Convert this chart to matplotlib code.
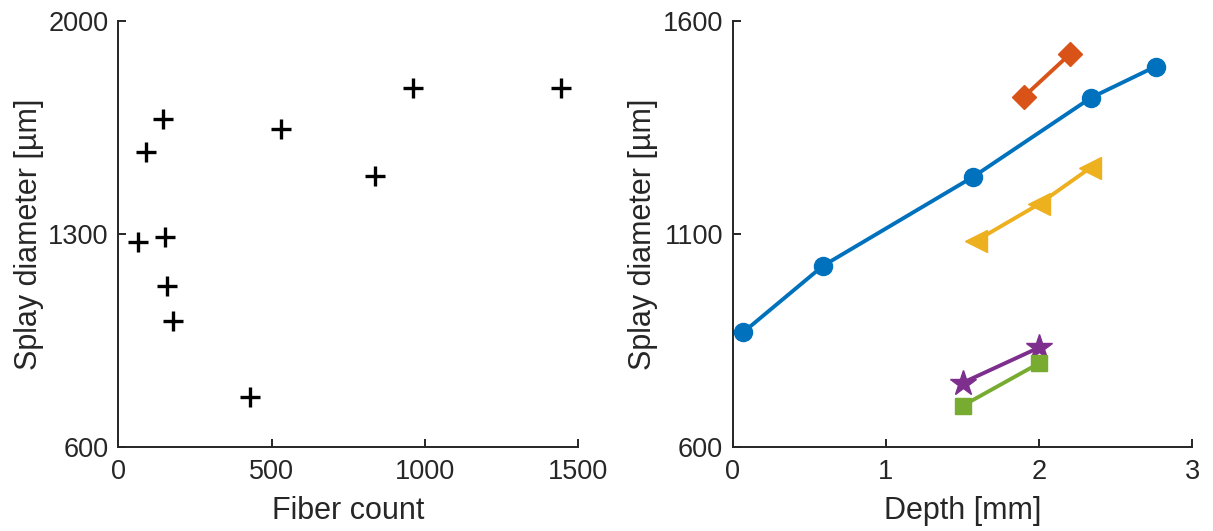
import matplotlib
matplotlib.use("Agg")
import matplotlib.pyplot as plt

plt.rcParams["font.family"] = ["Liberation Sans", "DejaVu Sans"]

# left panel: fiber count vs splay diameter
fiber_count = [1442, 960, 838, 530, 146, 90, 64, 152, 159, 178, 430]
fiber_splay = [1781, 1781, 1490, 1644, 1678, 1568, 1274, 1289, 1130, 1014, 762]

# right panel: depth vs splay diameter, one list per series
blue_depth = [0.07, 0.59, 1.57, 2.34, 2.76]
blue_splay = [869, 1025, 1234, 1420, 1493]
orange_depth = [1.90, 2.20]
orange_splay = [1422, 1522]
yellow_depth = [1.59, 2.00, 2.33]
yellow_splay = [1084, 1170, 1254]
purple_depth = [1.50, 2.00]
purple_splay = [750, 833]
green_depth = [1.50, 2.00]
green_splay = [696, 796]

tick_fs = 19.5
label_fs = 22
ax_color = "#262626"

fig = plt.figure(figsize=(12.13, 5.31), dpi=100)
ax1 = fig.add_axes([0.0975, 0.1588, 0.3793, 0.8017])
ax2 = fig.add_axes([0.604, 0.1588, 0.379, 0.8017])

ax1.plot(fiber_count, fiber_splay, linestyle="none", marker="+",
         color="black", markersize=15, markeredgewidth=2.4, clip_on=False)
ax1.set_xlim(0, 1500)
ax1.set_ylim(600, 2000)
ax1.set_xticks([0, 500, 1000, 1500])
ax1.set_yticks([600, 1300, 2000])
ax1.set_xlabel("Fiber count", fontsize=label_fs, color=ax_color, labelpad=8)
ax1.set_ylabel("Splay diameter [µm]", fontsize=label_fs, color=ax_color,
               labelpad=3)

series = [
    (blue_depth, blue_splay, "#0072BD", "o", 13),
    (orange_depth, orange_splay, "#D95319", "D", 12),
    (yellow_depth, yellow_splay, "#EDB120", "<", 16),
    (purple_depth, purple_splay, "#7E2F8E", "*", 19),
    (green_depth, green_splay, "#77AC30", "s", 12),
]
for x, y, c, m, ms in series:
    ax2.plot(x, y, color=c, marker=m, markersize=ms, linewidth=2.8,
             markeredgecolor=c, clip_on=False)
ax2.set_xlim(0, 3)
ax2.set_ylim(600, 1600)
ax2.set_xticks([0, 1, 2, 3])
ax2.set_yticks([600, 1100, 1600])
ax2.set_xlabel("Depth [mm]", fontsize=label_fs, color=ax_color, labelpad=8)
ax2.set_ylabel("Splay diameter [µm]", fontsize=label_fs, color=ax_color,
               labelpad=3)

for ax in (ax1, ax2):
    ax.spines["top"].set_visible(False)
    ax.spines["right"].set_visible(False)
    for s in ("left", "bottom"):
        ax.spines[s].set_linewidth(1.4)
        ax.spines[s].set_color(ax_color)
    ax.tick_params(direction="in", length=6, width=1.4, labelsize=tick_fs,
                   colors=ax_color)
    ax.tick_params(axis="x", pad=9)
    ax.tick_params(axis="y", pad=7)

fig.savefig("out.png", dpi=100)
